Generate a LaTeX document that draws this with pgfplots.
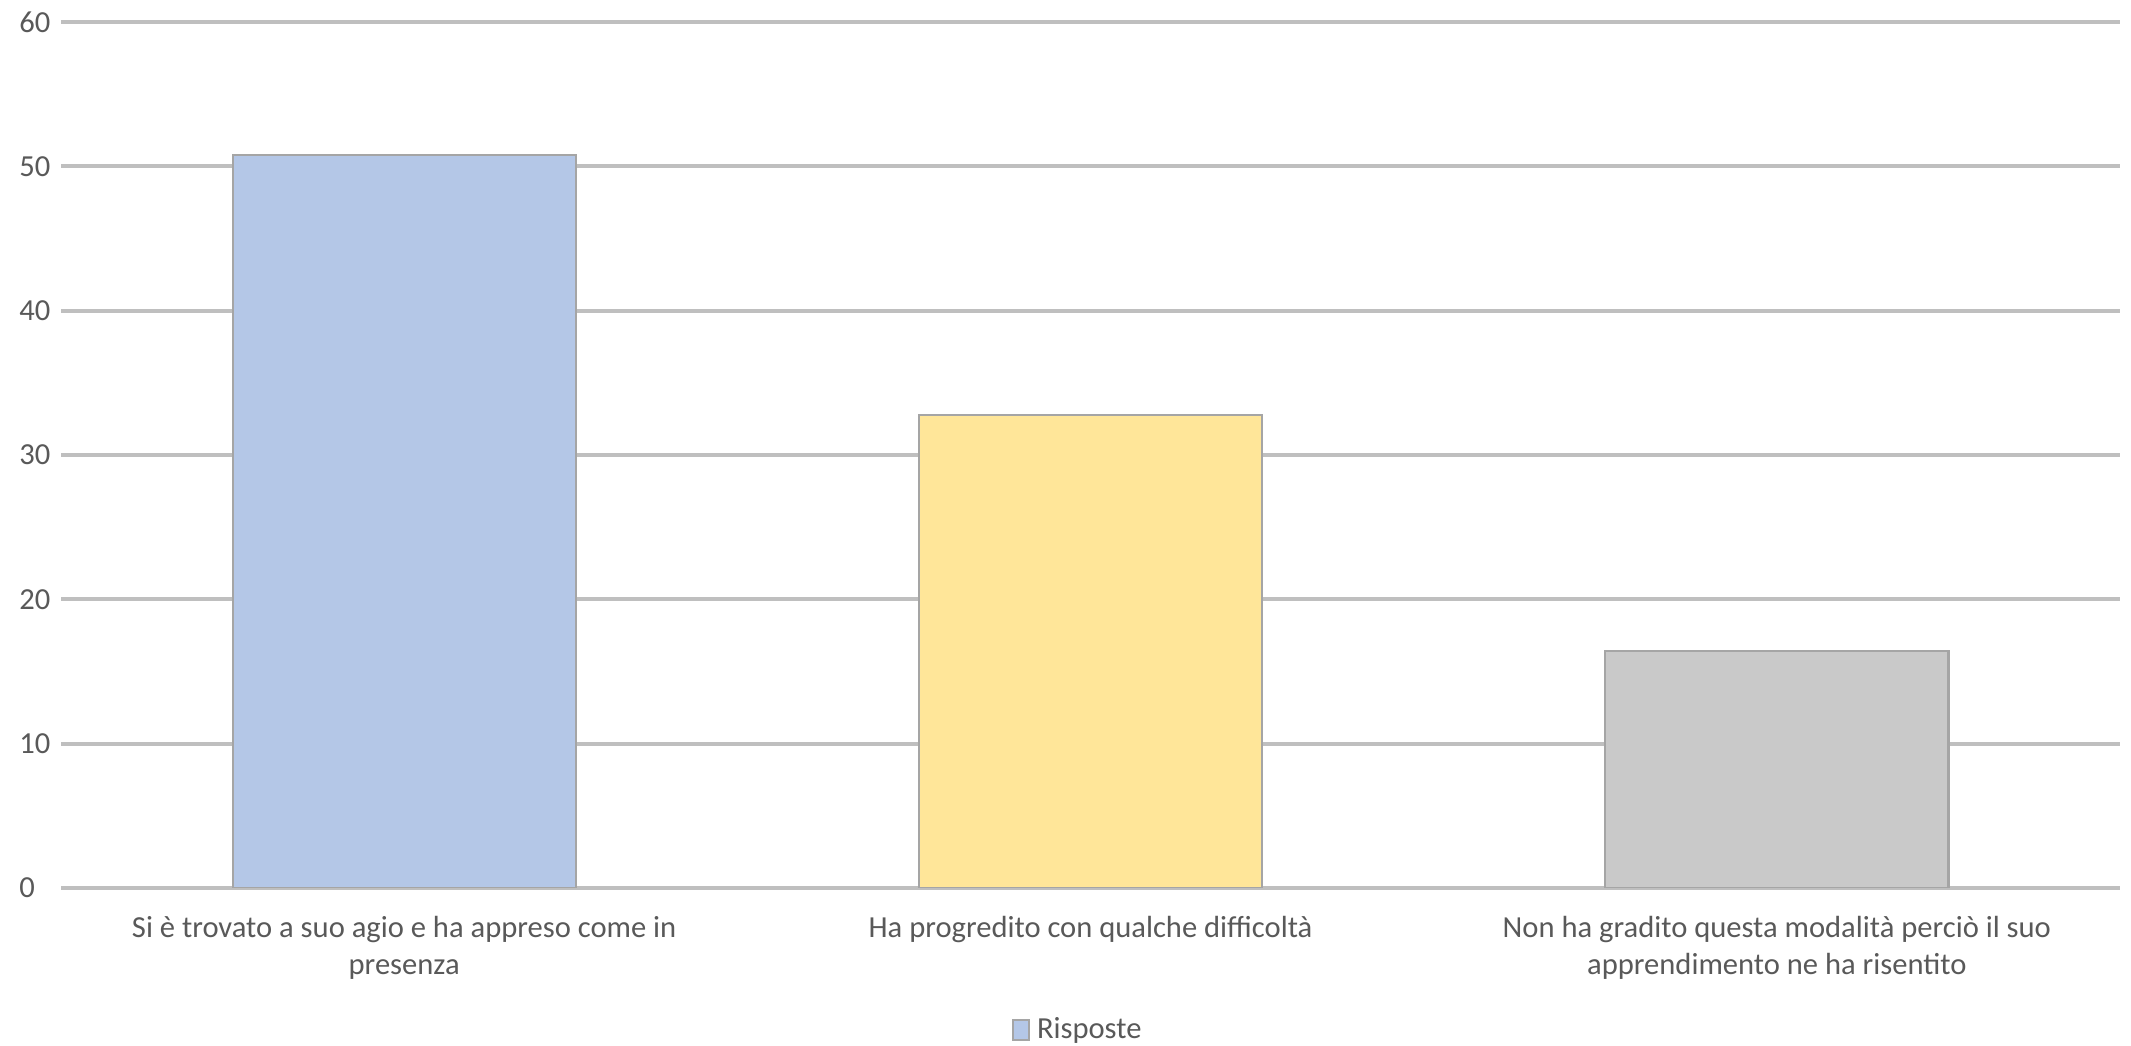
\documentclass[border=0pt]{standalone}
\usepackage{pgfplots}
\pgfplotsset{compat=1.18}
\usepackage{fontspec}
\setmainfont{Carlito}
\definecolor{barblue}{HTML}{B4C7E7}
\definecolor{baryellow}{HTML}{FFE699}
\definecolor{bargray}{HTML}{C9C9C9}
\definecolor{gridgray}{HTML}{BFBFBF}
\definecolor{edgegray}{HTML}{A5A5A5}
\definecolor{textgray}{HTML}{595959}
\begin{document}
\begin{tikzpicture}
\useasboundingbox (0,0) rectangle (213.1mm,104.6mm);
\begin{axis}[
  at={(6.1mm,15.8mm)}, anchor=south west,
  scale only axis, width=205.9mm, height=86.6mm,
  ymin=0, ymax=60, ytick={0,10,...,60},
  xmin=-0.5, xmax=2.5, xtick={0,1,2},
  xticklabels={{Si è trovato a suo agio e ha appreso come in\\presenza},
               {Ha progredito con qualche difficoltà},
               {Non ha gradito questa modalità perciò il suo\\apprendimento ne ha risentito}},
  axis line style={draw=none},
  ymajorgrids, grid style={gridgray, line width=1.1pt},
  major tick length=0pt,
  tick label style={font=\fontsize{8.7}{10.5}\selectfont, text=textgray},
  xticklabel style={align=center, anchor=north, yshift=-1.6mm},
  yticklabel style={anchor=west, xshift=-5.4mm},
  /pgf/number format/assume math mode=true,
  ybar, bar width=0.5, bar shift=0pt,
  area legend,
  legend image code/.code={\draw[#1] (0cm,-0.09cm) rectangle (0.16cm,0.11cm);},
  legend style={at={(0.495,-0.165)}, anchor=center, draw=none, fill=none,
    font=\fontsize{8.7}{10.5}\selectfont\color{textgray}, inner sep=0pt,
    /tikz/every even column/.append style={column sep=0pt}},
]
\addplot[fill=barblue, draw=edgegray, line width=0.6pt] coordinates {(0,50.8)};
\addlegendentry{Risposte}
\addplot[fill=baryellow, draw=edgegray, line width=0.6pt, forget plot] coordinates {(1,32.8)};
\addplot[fill=bargray, draw=edgegray, line width=0.6pt, forget plot] coordinates {(2,16.4)};
\end{axis}
\end{tikzpicture}
\end{document}
